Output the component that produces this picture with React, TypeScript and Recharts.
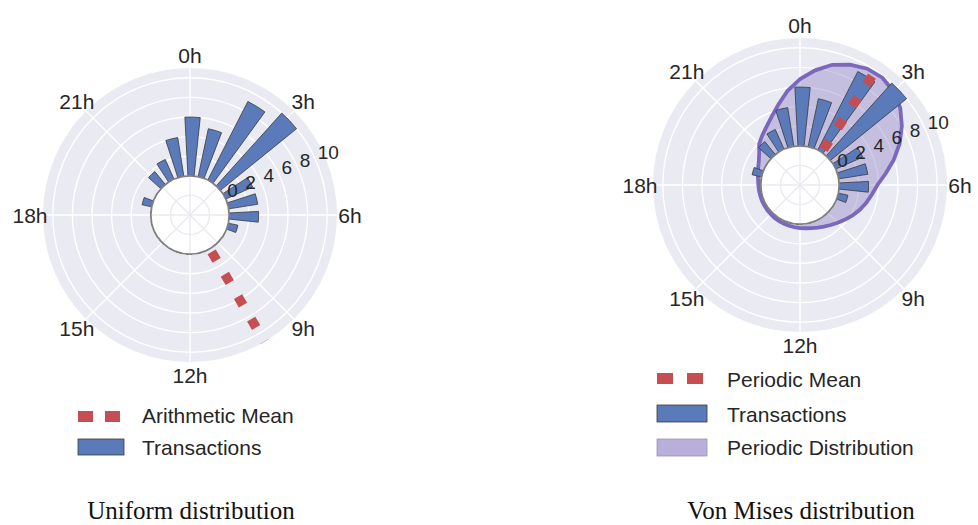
import React from 'react';
import {
  RadialBarChart,
  RadialBar,
  RadarChart,
  Radar,
  PolarAngleAxis,
  PolarRadiusAxis,
  PolarGrid,
} from 'recharts';

// ---------------- data ----------------
const hourLabels = [
  '0h', '1h', '2h', '3h', '4h', '5h', '6h', '7h', '8h', '9h', '10h', '11h',
  '12h', '13h', '14h', '15h', '16h', '17h', '18h', '19h', '20h', '21h', '22h', '23h',
];
const transactionCounts = [6, 5, 9, 10, 3, 3, 3, 1, 0, 0, 0, 0, 0, 0, 0, 0, 0, 0, 0, 1, 0, 1.7, 2.2, 4];
const radialTickValues = [0, 2, 4, 6, 8, 10];
const radialDomain: [number, number] = [-4, 11];
const gridHours = [0, 3, 6, 9, 12, 15, 18, 21];
const arithmeticMeanHour = 9.97;
const periodicMeanHour = 2.23;
const meanStart = 0.36;
const distributionAngles = [
  0, 7.5, 15, 22.5, 30, 37.5, 45, 52.5, 60, 67.5, 75, 82.5,
  90, 97.5, 105, 112.5, 120, 127.5, 135, 142.5, 150, 157.5, 165, 172.5,
  180, 187.5, 195, 202.5, 210, 217.5, 225, 232.5, 240, 247.5, 255, 262.5,
  270, 277.5, 285, 292.5, 300, 307.5, 315, 322.5, 330, 337.5, 345, 352.5,
];
const distributionValues = [
  6.8, 7.8, 8.7, 9.3, 9.7, 9.8, 9.5, 8.9, 8.0, 7.0, 5.9, 4.8,
  3.9, 3.4, 3.0, 2.6, 2.2, 1.8, 1.45, 1.15, 0.9, 0.7, 0.55, 0.45,
  0.4, 0.35, 0.3, 0.28, 0.26, 0.24, 0.22, 0.2, 0.2, 0.2, 0.2, 0.22,
  0.25, 0.32, 0.45, 0.62, 0.85, 1.25, 1.9, 2.35, 2.85, 3.55, 4.5, 5.7,
];

// ---------------- style ----------------
const W = 380;
const H = 400;
const R = 147;
const LABEL_R = 160;
const BAR_START_ANGLE = 81;
const ANGLE_SHIFT = 9;
const SANS = '"Liberation Sans", Arial, sans-serif';
const SERIF = '"Liberation Serif", "Times New Roman", serif';
const TEXT = '#262626';
const BG = '#EAEAF2';
const BAR_FILL = '#5A7AB9';
const BAR_EDGE = '#3a3a3a';
const MEAN = '#C44E52';
const DIST_LINE = '#7B68BE';
const DIST_FILL = '#8C7CC4';

const rToPx = (v: number) => (R * (v - radialDomain[0])) / (radialDomain[1] - radialDomain[0]);
const hourToAngle = (h: number) => 90 - h * 15;
const gridAngles = gridHours.map(hourToAngle);
const ZERO_MARGIN = { top: 0, right: 0, bottom: 0, left: 0 };

const HourTick = (props: any) => {
  const { payload, index, cx0, cy0 } = props;
  if (index % 3 !== 0) return null;
  const a = ((payload.coordinate + ANGLE_SHIFT) * Math.PI) / 180;
  const x = cx0 + LABEL_R * Math.cos(a);
  const y = cy0 - LABEL_R * Math.sin(a);
  return (
    <text x={x} y={y} textAnchor="middle" dominantBaseline="central" fontSize={21} fontFamily={SANS} fill={TEXT}>
      {payload.value}
    </text>
  );
};

const RadiusTick = (props: any) => {
  const { x, y, payload } = props;
  return (
    <text x={x + 1} y={y - 3} textAnchor="start" fontSize={19} fontFamily={SANS} fill={TEXT}>
      {payload.value}
    </text>
  );
};

type PanelProps = {
  left: number;
  top: number;
  cx: number;
  cy: number;
  data: { hour: string; count: number }[];
  meanHour: number;
  meanEnd: number;
  dist?: { angle: number; density: number }[];
};

const layer: React.CSSProperties = { position: 'absolute', left: 0, top: 0 };

const Panel = ({ left, top, cx, cy, data, meanHour, meanEnd, dist }: PanelProps) => {
  const hole = rToPx(0);
  const inner = rToPx(-2);
  return (
    <div style={{ position: 'absolute', left, top, width: W, height: H }}>
      <svg width={W} height={H} style={layer}>
        <circle cx={cx} cy={cy} r={R} fill={BG} />
      </svg>
      {dist && (
        <div style={layer}>
          <RadarChart
            width={W}
            height={H}
            data={dist}
            cx={cx}
            cy={cy}
            innerRadius={0}
            outerRadius={R}
            startAngle={90}
            endAngle={-270}
            margin={ZERO_MARGIN}
          >
            <PolarGrid gridType="circle" polarAngles={gridAngles} stroke="#ffffff" strokeWidth={1.4} />
            <PolarAngleAxis dataKey="angle" tick={false} axisLine={false} tickLine={false} />
            <PolarRadiusAxis type="number" domain={radialDomain} ticks={radialTickValues} tick={false} axisLine={false} tickLine={false} />
            <Radar
              dataKey="density"
              stroke={DIST_LINE}
              strokeWidth={3.8}
              fill={DIST_FILL}
              fillOpacity={0.4}
              dot={false}
              isAnimationActive={false}
            />
          </RadarChart>
        </div>
      )}
      <div style={layer}>
        <RadialBarChart
          width={W}
          height={H}
          data={data}
          layout="centric"
          cx={cx}
          cy={cy}
          innerRadius={0}
          outerRadius={R}
          startAngle={BAR_START_ANGLE}
          endAngle={BAR_START_ANGLE - 360}
          barCategoryGap="20%"
          margin={ZERO_MARGIN}
        >
          {!dist && <PolarGrid gridType="circle" polarAngles={gridAngles} stroke="#ffffff" strokeWidth={1.4} />}
          <PolarAngleAxis
            type="category"
            dataKey="hour"
            tick={<HourTick cx0={cx} cy0={cy} />}
            axisLine={false}
            tickLine={false}
          />
          <PolarRadiusAxis
            type="number"
            domain={radialDomain}
            ticks={radialTickValues}
            angle={22.5}
            tick={<RadiusTick />}
            axisLine={false}
            tickLine={false}
          />
          <RadialBar dataKey="count" fill={BAR_FILL} stroke={BAR_EDGE} strokeWidth={0.8} isAnimationActive={false} />
        </RadialBarChart>
      </div>
      {/* mean direction: drawn as the radius axis line of an overlay polar chart */}
      <div style={layer}>
        <RadarChart
          width={W}
          height={H}
          data={data}
          cx={cx}
          cy={cy}
          innerRadius={0}
          outerRadius={R}
          startAngle={90}
          endAngle={-270}
          margin={ZERO_MARGIN}
        >
          <PolarAngleAxis dataKey="hour" tick={false} axisLine={false} tickLine={false} />
          <PolarRadiusAxis
            type="number"
            domain={radialDomain}
            ticks={[meanStart, meanEnd]}
            angle={hourToAngle(meanHour)}
            tick={false}
            tickLine={false}
            axisLine={{ stroke: MEAN, strokeWidth: 9.5, strokeDasharray: '9.8 16.2' }}
          />
          <Radar dataKey="count" stroke="none" fill="none" dot={false} isAnimationActive={false} legendType="none" />
        </RadarChart>
      </div>
      <svg width={W} height={H} style={{ ...layer, pointerEvents: 'none' }}>
        <circle cx={cx} cy={cy} r={hole} fill="#ffffff" />
        <circle cx={cx} cy={cy} r={inner} fill="none" stroke={BG} strokeWidth={1.4} />
        {gridAngles.map((a) => (
          <line
            key={a}
            x1={cx}
            y1={cy}
            x2={cx + hole * Math.cos((a * Math.PI) / 180)}
            y2={cy - hole * Math.sin((a * Math.PI) / 180)}
            stroke={BG}
            strokeWidth={1.4}
          />
        ))}
        <circle cx={cx} cy={cy} r={hole} fill="none" stroke="#808080" strokeWidth={1.8} />
      </svg>
    </div>
  );
};

export default function App() {
  const barData = hourLabels.map((h, i) => ({ hour: h, count: transactionCounts[i] }));
  const distData = distributionAngles.map((a, i) => ({ angle: a, density: distributionValues[i] }));
  return (
    <div style={{ position: 'absolute', left: 0, top: 0, width: 978, height: 525, background: '#ffffff', overflow: 'hidden' }}>
      <Panel left={0} top={0} cx={190} cy={215} data={barData} meanHour={arithmeticMeanHour} meanEnd={11} />
      <Panel left={610} top={0} cx={190} cy={185} data={barData} meanHour={periodicMeanHour} meanEnd={10.3} dist={distData} />
      <svg width={978} height={525} style={{ position: 'absolute', left: 0, top: 0, pointerEvents: 'none' }}>
        <g fontFamily={SANS} fontSize={21} fill={TEXT}>
          <line x1={78} y1={416.5} x2={121} y2={416.5} stroke={MEAN} strokeWidth={11} strokeDasharray="15 12" />
          <text x={142} y={423}>Arithmetic Mean</text>
          <rect x={78} y={439} width={46} height={16} fill={BAR_FILL} stroke={BAR_EDGE} strokeWidth={0.8} />
          <text x={142} y={455}>Transactions</text>

          <line x1={657} y1={378.5} x2={703} y2={378.5} stroke={MEAN} strokeWidth={11} strokeDasharray="16 14" />
          <text x={727} y={387}>Periodic Mean</text>
          <rect x={657} y={405} width={50} height={17} fill={BAR_FILL} stroke={BAR_EDGE} strokeWidth={0.8} />
          <text x={727} y={422}>Transactions</text>
          <rect x={657} y={439} width={50} height={17} fill="#B9B0DA" stroke="#9a93b8" strokeWidth={0.8} />
          <text x={727} y={455}>Periodic Distribution</text>
        </g>
        <g fontFamily={SERIF} fontSize={25} fill="#111111" textAnchor="middle">
          <text x={191} y={518.5}>Uniform distribution</text>
          <text x={801} y={518.5}>Von Mises distribution</text>
        </g>
      </svg>
    </div>
  );
}
